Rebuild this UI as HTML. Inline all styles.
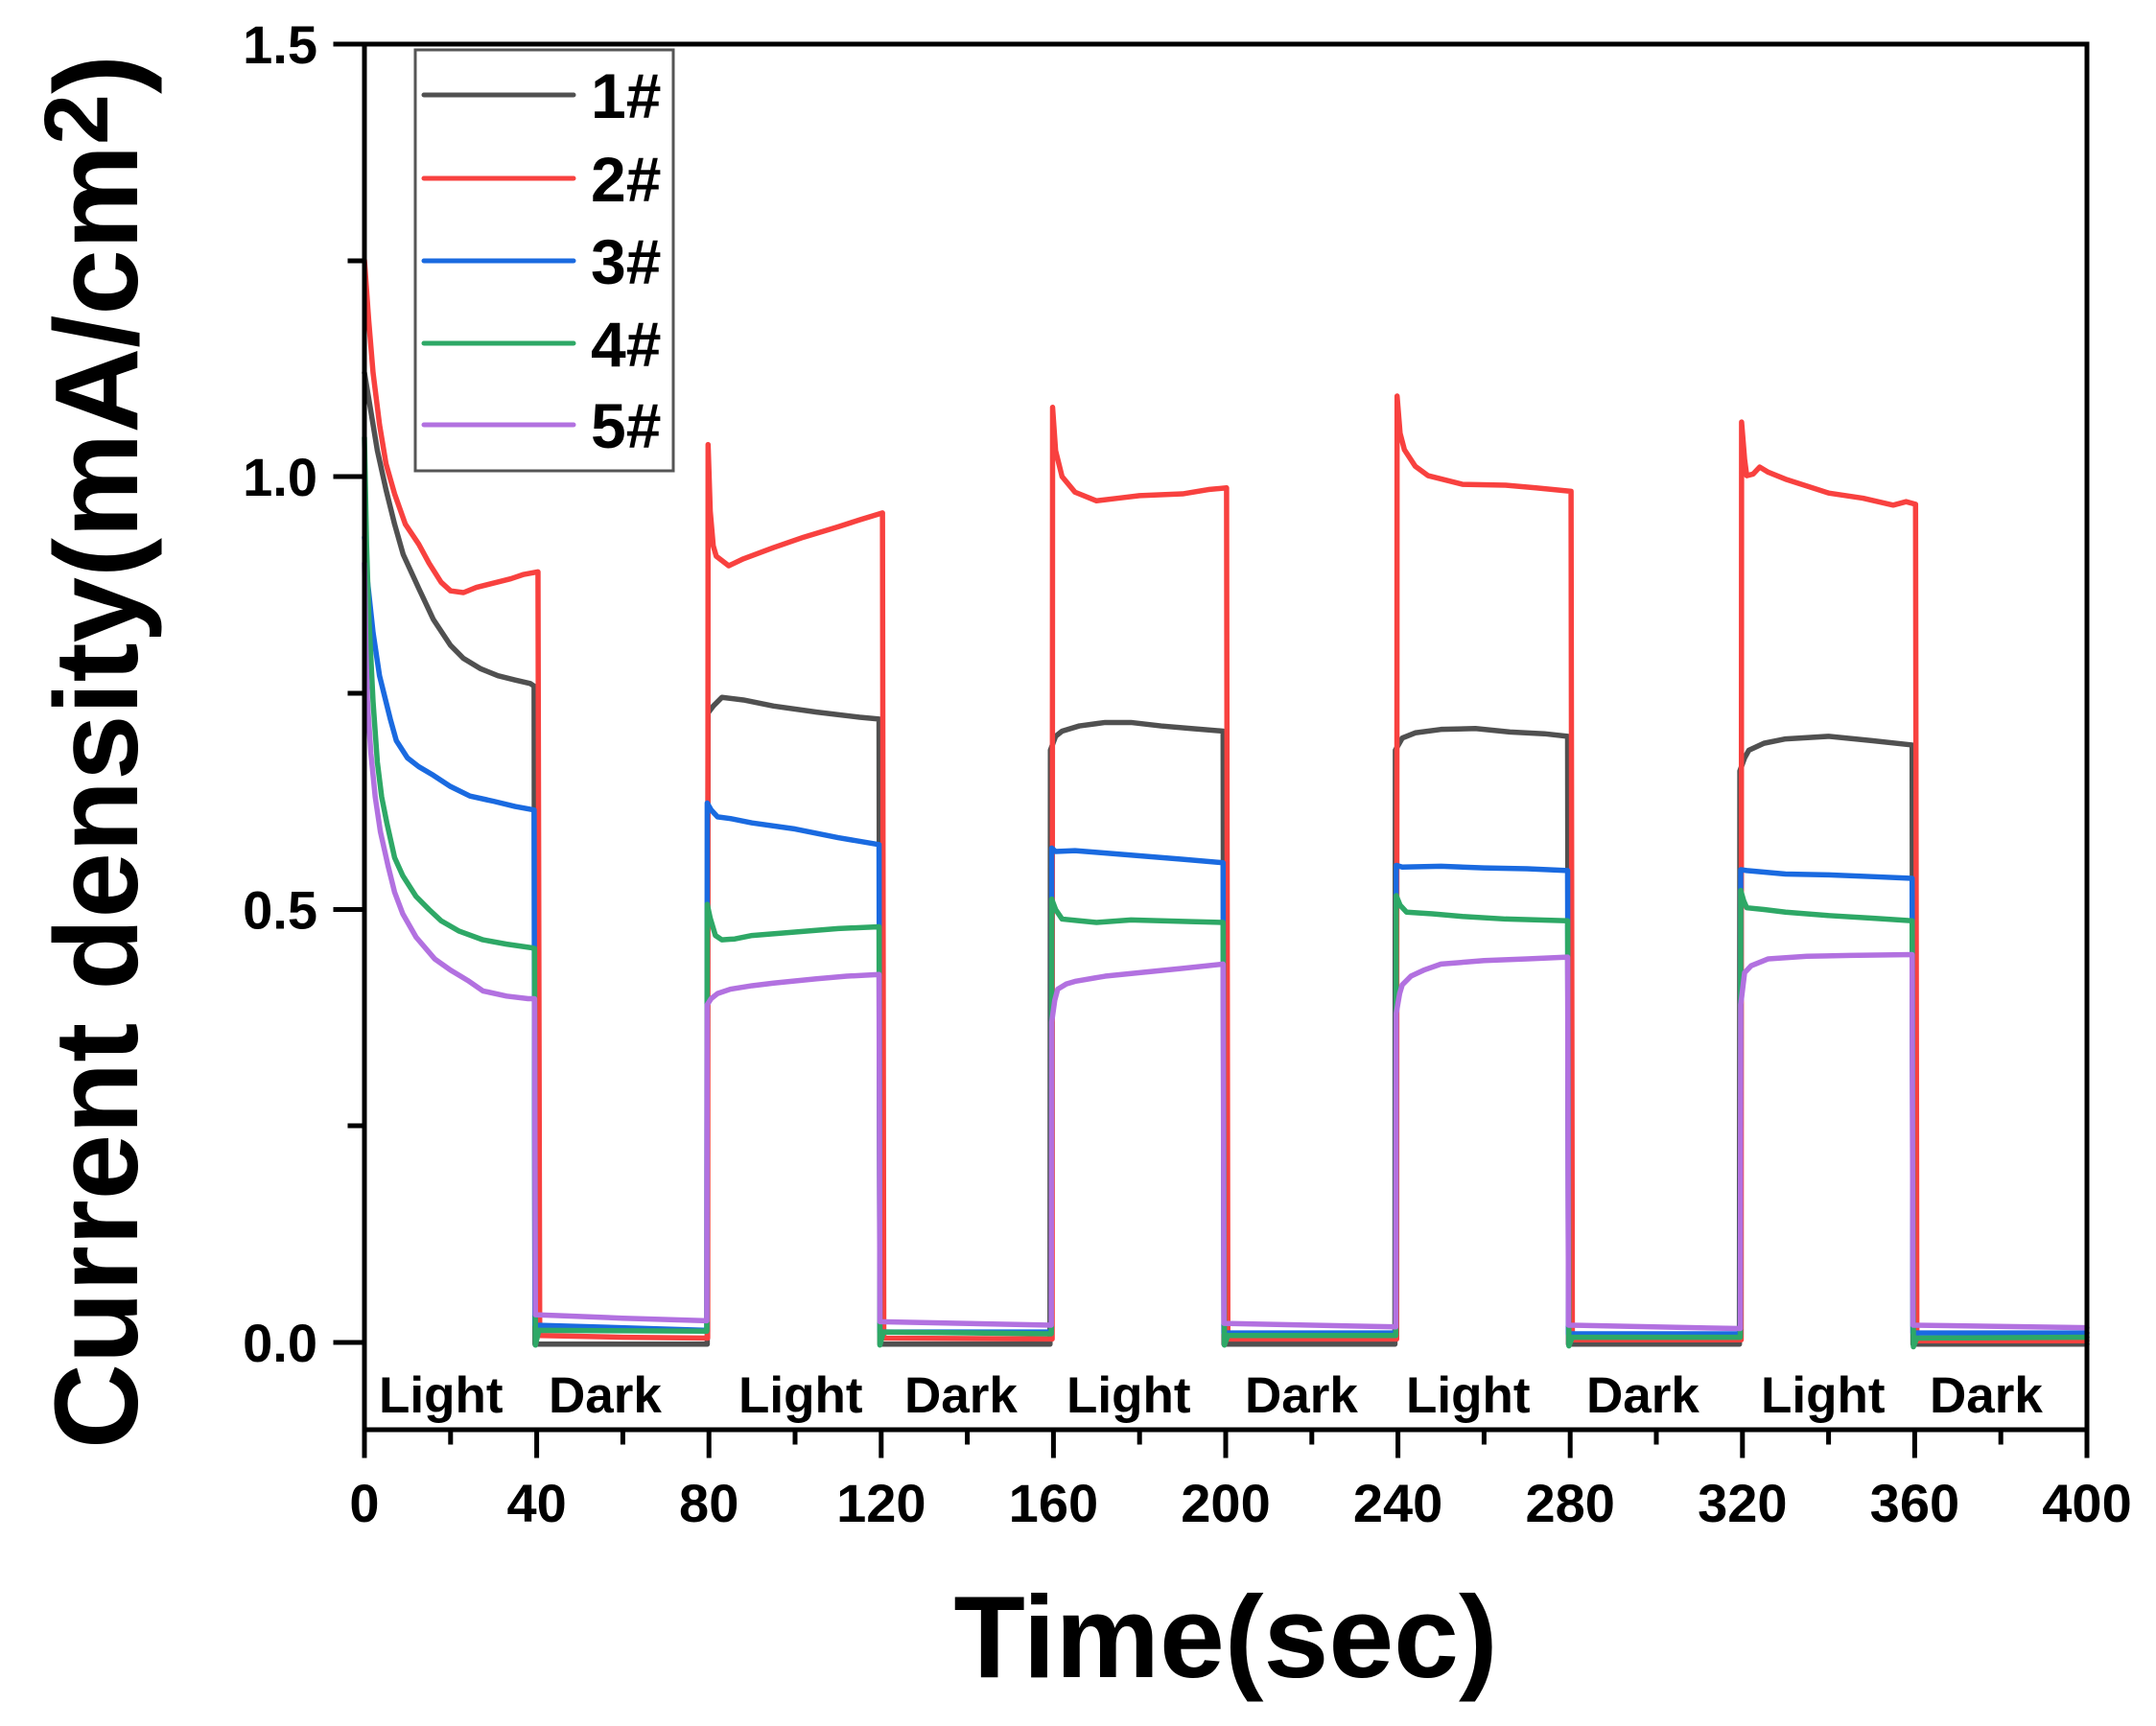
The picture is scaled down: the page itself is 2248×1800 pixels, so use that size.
<!DOCTYPE html>
<html>
<head>
<meta charset="utf-8">
<style>
html,body{margin:0;padding:0;background:#fff;}
svg{display:block;}
text{font-family:"Liberation Sans",Arial,sans-serif;font-weight:bold;fill:#000;}
.d{fill:none;stroke-width:5.5;stroke-linejoin:round;stroke-linecap:round;}
</style>
</head>
<body>
<svg width="2248" height="1800" viewBox="0 0 2248 1800" xmlns="http://www.w3.org/2000/svg">
<rect width="2248" height="1800" fill="#fff"/>

<!-- data -->
<g transform="translate(380,1400) scale(4.49,-903)">
<polyline class="d" vector-effect="non-scaling-stroke" stroke="#505050" points="0,1.12 1,1.09 2,1.06 3,1.03 5,0.985 7,0.945 9,0.91 12.6,0.871 16,0.835 20,0.805 23,0.79 27,0.778 31,0.77 35,0.765 38.5,0.761 39.4,0.758 39.6,-0.002 79.6,-0.002 79.8,0.727 81,0.735 83,0.745 88,0.742 95,0.735 105,0.728 115,0.722 119.5,0.72 119.7,-0.002 159.2,-0.002 159.3,0.684 160.5,0.70 162,0.706 166,0.712 172,0.716 178,0.716 185,0.712 192,0.709 199.4,0.706 199.6,-0.002 239.3,-0.002 239.4,0.684 241,0.698 244,0.704 250,0.708 258,0.709 266,0.705 274,0.703 279.4,0.700 279.6,-0.002 319.3,-0.002 319.4,0.660 320.5,0.675 321.5,0.684 325,0.692 330,0.697 340,0.700 350,0.695 359.4,0.69 359.6,-0.002 400,-0.002"/>
<polyline class="d" vector-effect="non-scaling-stroke" stroke="#f8413f" points="0,1.25 1,1.18 2,1.12 3.5,1.06 5,1.015 7,0.98 9.5,0.945 12.6,0.922 15,0.9 17.8,0.878 20,0.868 23,0.866 26,0.872 30,0.877 34,0.882 37,0.887 40.3,0.89 40.7,0.008 60,0.006 79.7,0.005 79.8,1.037 80.3,0.96 81,0.92 81.7,0.908 84.6,0.897 88,0.905 95,0.918 102,0.93 110,0.942 115,0.95 120.3,0.958 120.6,0.005 159.7,0.004 159.8,1.08 160.5,1.03 162,1.0 165,0.982 170,0.972 175,0.975 180,0.978 190,0.98 196,0.985 200.2,0.987 200.5,0.004 239.7,0.004 239.8,1.093 240.5,1.05 241.5,1.031 244,1.012 247,1.001 255,0.991 265,0.99 272,0.987 280.2,0.983 280.5,0.003 319.7,0.003 319.8,1.063 320.5,1.02 321,1.001 322.5,1.003 324,1.011 326,1.005 330,0.997 340,0.981 348,0.975 355,0.967 358,0.971 360.2,0.968 360.5,0.002 400,0.002"/>
<polyline class="d" vector-effect="non-scaling-stroke" stroke="#1a6ae0" points="0,0.93 0.7,0.88 2,0.82 3.5,0.77 5,0.74 6,0.72 7.4,0.695 10,0.675 12.6,0.665 16,0.655 20,0.642 24.5,0.631 30,0.625 35,0.619 39.4,0.615 39.6,0.02 79.5,0.014 79.6,0.623 80.5,0.615 82,0.607 85,0.605 90,0.60 100,0.593 110,0.583 119.5,0.575 119.7,0.012 159.5,0.012 159.6,0.571 160.5,0.567 165,0.568 170,0.566 180,0.562 190,0.558 199.4,0.554 199.6,0.011 239.5,0.011 239.6,0.551 241,0.549 250,0.55 260,0.548 270,0.547 279.4,0.545 279.6,0.01 319.5,0.01 319.6,0.546 321,0.545 330,0.541 340,0.54 350,0.538 359.4,0.536 359.6,0.011 400,0.011"/>
<polyline class="d" vector-effect="non-scaling-stroke" stroke="#2ea866" points="0,1.045 0.5,0.92 1,0.84 2,0.74 3,0.67 4,0.63 5.2,0.6 7,0.56 8.9,0.539 12,0.515 15,0.5 17.8,0.487 22,0.475 27.5,0.465 33,0.46 38.6,0.456 39.5,0.455 39.7,-0.003 40.5,0.014 79.5,0.013 79.6,0.506 80.3,0.49 81.5,0.47 83,0.465 86,0.466 90,0.47 100,0.474 110,0.478 119.5,0.48 119.7,-0.003 120.5,0.012 159.5,0.01 159.6,0.512 160.5,0.5 162,0.489 166,0.487 170,0.485 178,0.488 185,0.487 192,0.486 199.4,0.485 199.7,-0.003 200.5,0.008 239.5,0.008 239.6,0.516 240.5,0.505 242,0.497 248,0.495 255,0.492 265,0.489 279.4,0.487 279.7,-0.004 280.5,0.006 319.5,0.006 319.6,0.522 320.3,0.51 321,0.502 325,0.5 330,0.497 340,0.493 350,0.49 359.4,0.487 359.7,-0.005 360.5,0.005 400,0.006"/>
<polyline class="d" vector-effect="non-scaling-stroke" stroke="#b271e0" points="0,0.9 0.35,0.8 0.7,0.74 1.5,0.68 2.5,0.63 3.7,0.59 5.5,0.55 7,0.52 8.9,0.495 12,0.468 16.3,0.443 20,0.43 24,0.418 27.5,0.406 33,0.4 38,0.397 39.5,0.397 39.7,0.032 45,0.031 60,0.028 79.5,0.025 79.6,0.39 80.5,0.397 82,0.403 85,0.408 90,0.412 95,0.415 105,0.42 112,0.423 119.5,0.425 119.7,0.024 159.5,0.02 159.6,0.37 160.3,0.395 161,0.408 163,0.414 165,0.417 172,0.423 180,0.427 190,0.432 199.4,0.437 199.6,0.022 239.5,0.018 239.6,0.38 240.4,0.403 241,0.413 243,0.423 246,0.43 250,0.437 260,0.441 270,0.443 279.4,0.445 279.6,0.02 319.5,0.016 319.6,0.39 320.5,0.427 322,0.435 326,0.443 335,0.446 345,0.447 359.4,0.448 359.6,0.02 400,0.017"/>
</g>

<!-- axes frame -->
<g stroke="#000" stroke-width="5" fill="none" stroke-linecap="square">
<line x1="350" y1="46" x2="2176" y2="46"/>
<line x1="380" y1="46" x2="380" y2="1518"/>
<line x1="380" y1="1491" x2="2176" y2="1491"/>
<line x1="2176" y1="46" x2="2176" y2="1518"/>
<!-- y ticks -->
<line x1="350" y1="1400" x2="380" y2="1400"/>
<line x1="350" y1="948.5" x2="380" y2="948.5"/>
<line x1="350" y1="497" x2="380" y2="497"/>
<line x1="365" y1="1174" x2="380" y2="1174"/>
<line x1="365" y1="723" x2="380" y2="723"/>
<line x1="365" y1="272" x2="380" y2="272"/>
<!-- x major ticks -->
<line x1="559.6" y1="1491" x2="559.6" y2="1518"/>
<line x1="739.2" y1="1491" x2="739.2" y2="1518"/>
<line x1="918.8" y1="1491" x2="918.8" y2="1518"/>
<line x1="1098.4" y1="1491" x2="1098.4" y2="1518"/>
<line x1="1278" y1="1491" x2="1278" y2="1518"/>
<line x1="1457.6" y1="1491" x2="1457.6" y2="1518"/>
<line x1="1637.2" y1="1491" x2="1637.2" y2="1518"/>
<line x1="1816.8" y1="1491" x2="1816.8" y2="1518"/>
<line x1="1996.4" y1="1491" x2="1996.4" y2="1518"/>
<!-- x minor ticks -->
<line x1="469.8" y1="1491" x2="469.8" y2="1504"/>
<line x1="649.4" y1="1491" x2="649.4" y2="1504"/>
<line x1="829" y1="1491" x2="829" y2="1504"/>
<line x1="1008.6" y1="1491" x2="1008.6" y2="1504"/>
<line x1="1188.2" y1="1491" x2="1188.2" y2="1504"/>
<line x1="1367.8" y1="1491" x2="1367.8" y2="1504"/>
<line x1="1547.4" y1="1491" x2="1547.4" y2="1504"/>
<line x1="1727" y1="1491" x2="1727" y2="1504"/>
<line x1="1906.6" y1="1491" x2="1906.6" y2="1504"/>
<line x1="2086.2" y1="1491" x2="2086.2" y2="1504"/>
</g>

<!-- y tick labels -->
<g font-size="56" text-anchor="end">
<text x="331" y="1420">0.0</text>
<text x="331" y="968.5">0.5</text>
<text x="331" y="517">1.0</text>
<text x="331" y="66">1.5</text>
</g>

<!-- x tick labels -->
<g font-size="56" text-anchor="middle">
<text x="380" y="1587">0</text>
<text x="559.6" y="1587">40</text>
<text x="739.2" y="1587">80</text>
<text x="918.8" y="1587">120</text>
<text x="1098.4" y="1587">160</text>
<text x="1278" y="1587">200</text>
<text x="1457.6" y="1587">240</text>
<text x="1637.2" y="1587">280</text>
<text x="1816.8" y="1587">320</text>
<text x="1996.4" y="1587">360</text>
<text x="2176" y="1587">400</text>
</g>

<!-- Light / Dark labels -->
<g font-size="53">
<text x="395" y="1473">Light</text>
<text x="572" y="1473">Dark</text>
<text x="770" y="1473">Light</text>
<text x="943" y="1473">Dark</text>
<text x="1112" y="1473">Light</text>
<text x="1298" y="1473">Dark</text>
<text x="1466" y="1473">Light</text>
<text x="1654" y="1473">Dark</text>
<text x="1836" y="1473">Light</text>
<text x="2012" y="1473">Dark</text>
</g>

<!-- legend -->
<rect x="433" y="52" width="269" height="439" fill="#fff" stroke="#555" stroke-width="3"/>
<g stroke-width="5" stroke-linecap="round">
<line x1="442" y1="99" x2="598" y2="99" stroke="#505050"/>
<line x1="442" y1="186" x2="598" y2="186" stroke="#f8413f"/>
<line x1="442" y1="272" x2="598" y2="272" stroke="#1a6ae0"/>
<line x1="442" y1="358" x2="598" y2="358" stroke="#2ea866"/>
<line x1="442" y1="443" x2="598" y2="443" stroke="#b271e0"/>
</g>
<g font-size="66">
<text x="616" y="123">1#</text>
<text x="616" y="210">2#</text>
<text x="616" y="296">3#</text>
<text x="616" y="382">4#</text>
<text x="616" y="467">5#</text>
</g>

<!-- axis titles -->
<text x="1278" y="1749" font-size="122" text-anchor="middle">Time(sec)</text>
<text transform="translate(143,784) rotate(-90)" font-size="123" text-anchor="middle">Current density(mA/cm<tspan dy="-31" font-size="95">2</tspan><tspan dy="31">)</tspan></text>
</svg>
</body>
</html>
